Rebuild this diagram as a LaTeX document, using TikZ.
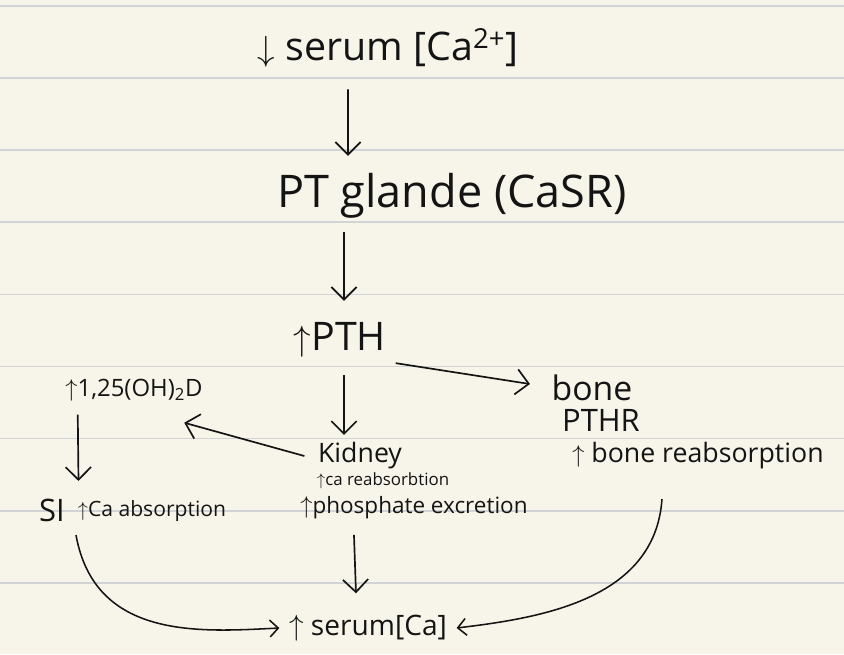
\documentclass[tikz,border=0pt]{standalone}
\usepackage{fontspec}
\setmainfont{Open Sans}
\definecolor{paper}{RGB}{247,245,234}
\definecolor{rule}{RGB}{210,211,214}
\definecolor{ink}{RGB}{20,20,20}
\usetikzlibrary{arrows.meta,positioning}

\begin{document}
\begin{tikzpicture}[x=0.025cm,y=-0.025cm,
	hand/.style={inner sep=1pt, text=ink, font=\fontsize{#1}{#1}\selectfont},
	hand/.default=20,
	arr/.style={-{Straight Barb[length=9pt,width=18pt]}, line width=1.2pt, ink},
	curv/.style={-{Straight Barb[length=6pt,width=12pt]}, line width=1.1pt, ink}
	]
	\fill[paper] (0,0) rectangle (844,654);
	\useasboundingbox (0,0) rectangle (844,654);
	\foreach \k in {0,...,8}
		\draw[rule, line width=1.2pt] (0,6+72.1*\k) -- (844,6+72.1*\k);
	\node[hand=28] (serumlow) at (388,48) {$\downarrow$ serum [Ca\textsuperscript{2+}]};
	\node[hand=32] (gland) at (452,196) {PT glande (CaSR)};
	\node[hand=28] (pth) at (340,340) {$\uparrow$PTH};
	\node[hand=24] (bone) at (592,388) {bone};
	\node[hand=22] (pthr) at (601,420) {PTHR};
	\node[hand=19] (boneres) at (698,456) {$\uparrow$ bone reabsorption};
	\node[hand=17] (vitd) at (134,390) {$\uparrow$1,25(OH)\textsubscript{2}D};
	\node[hand=22] (si) at (52,510) {SI};
	\node[hand=15] (siabs) at (152,511) {$\uparrow$Ca absorption};
	\node[hand=19] (kidney) at (360,456) {Kidney};
	\node[hand=12] (kreab) at (383,481) {$\uparrow$ca reabsorbtion};
	\node[hand=16] (kphos) at (414,508) {$\uparrow$phosphate excretion};
	\node[hand=20] (serumhigh) at (368,628) {$\uparrow$ serum[Ca]};
	\draw[arr] ([xshift=-1.0cm,yshift=-0.5cm]serumlow.south) -- ([xshift=-2.6cm,yshift=0.4cm]gland.north);
	\draw[arr] ([xshift=-2.7cm,yshift=-0.3cm]gland.south) -- ([xshift=0.1cm,yshift=0.5cm]pth.north);
	\draw[arr] ([xshift=0.1cm,yshift=-0.4cm]pth.south) -- ([xshift=0.1cm,yshift=0.15cm]kidney.north -| pth.south);
	\draw[arr] ([xshift=0.2cm,yshift=-0.1cm]pth.south east) -- ([xshift=-0.5cm,yshift=0.1cm]bone.west);
	\draw[arr] ([xshift=-0.3cm]kidney.west) -- ([xshift=-0.5cm,yshift=-0.5cm]vitd.south east);
	\draw[arr] ([xshift=0.35cm,yshift=-0.3cm]vitd.south west) -- ([xshift=0.3cm,yshift=0.4cm]si.north east);
	\draw[arr] ([xshift=-1.5cm,yshift=-0.35cm]kphos.south) -- ([xshift=-0.3cm,yshift=0.5cm]serumhigh.north);
	\draw[curv] ([xshift=0.6cm,yshift=-0.3cm]si.south) .. controls (95,640) and (200,632) .. ([xshift=-0.2cm]serumhigh.west);
	\draw[curv] ([xshift=-0.9cm,yshift=-0.7cm]boneres.south) .. controls (655,600) and (540,618) .. ([xshift=0.2cm]serumhigh.east);
\end{tikzpicture}
\end{document}
